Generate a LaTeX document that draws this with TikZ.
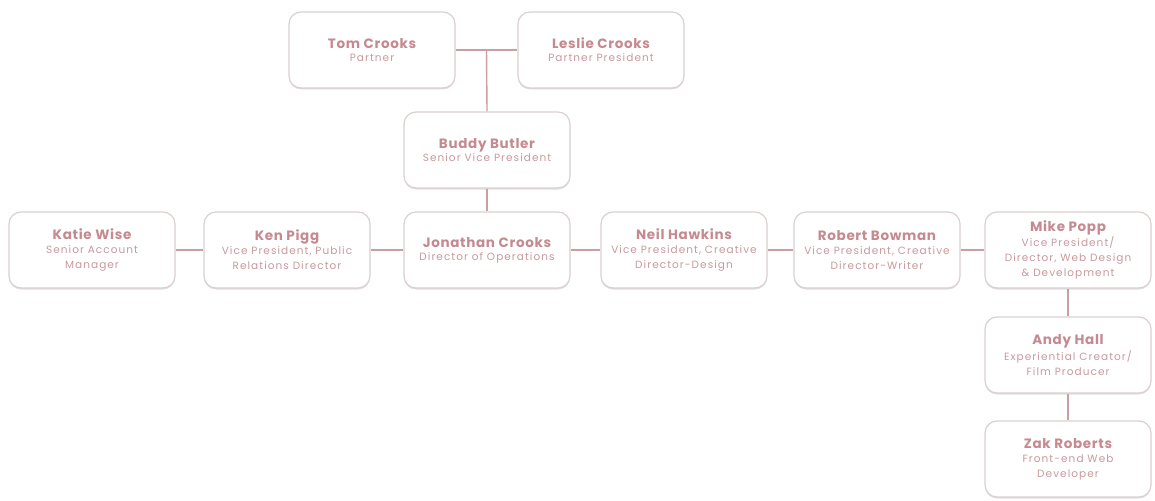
\documentclass[tikz,border=0pt]{standalone}
\usepackage{fontspec}
\setmainfont{Poppins}
\newfontfamily\namefont[LetterSpace=5]{Poppins}
\newfontfamily\titlefont[LetterSpace=10]{Poppins}
\usetikzlibrary{shadows,calc}
\definecolor{boxline}{HTML}{DCCFCF}
\definecolor{namecol}{HTML}{C48A90}
\definecolor{titlecol}{HTML}{C9999C}
\definecolor{linkcol}{HTML}{C9A0A2}
\newcommand{\pname}[1]{{\color{namecol}\namefont\fontsize{13.5}{15}\selectfont\bfseries #1}}
\newcommand{\ptitle}[1]{{\color{titlecol}\titlefont\fontsize{10.5}{12}\selectfont #1}}
\begin{document}
\begin{tikzpicture}[x=1pt,y=-1pt,
  person/.style={draw=boxline, line width=1.2pt, rounded corners=12pt, fill=white,
    minimum width=166pt, minimum height=76pt, align=center, inner sep=2pt,
    drop shadow={shadow xshift=0pt, shadow yshift=-1.5pt, opacity=0.25, fill=gray}},
  link/.style={draw=linkcol, line width=1.4pt}]
\useasboundingbox (0,0) rectangle (1155,500);
\node[person] (tom) at (372,50) {\pname{Tom Crooks}\\[1pt]\ptitle{Partner}};
\node[person] (leslie) at (601,50) {\pname{Leslie Crooks}\\[1pt]\ptitle{Partner President}};
\node[person] (buddy) at (487,150) {\pname{Buddy Butler}\\[1pt]\ptitle{Senior Vice President}};
\node[person] (katie) at (92,250) {\pname{Katie Wise}\\[2pt]\ptitle{Senior Account}\\[3pt]\ptitle{Manager}};
\node[person] (ken) at (287,250) {\pname{Ken Pigg}\\[2pt]\ptitle{Vice President, Public}\\[3pt]\ptitle{Relations Director}};
\node[person] (jon) at (487,250) {\pname{Jonathan Crooks}\\[1pt]\ptitle{Director of Operations}};
\node[person] (neil) at (684,250) {\pname{Neil Hawkins}\\[2pt]\ptitle{Vice President, Creative}\\[3pt]\ptitle{Director-Design}};
\node[person] (robert) at (877,250) {\pname{Robert Bowman}\\[2pt]\ptitle{Vice President, Creative}\\[3pt]\ptitle{Director-Writer}};
\node[person] (mike) at (1068,250) {\pname{Mike Popp}\\[1pt]\ptitle{Vice President/}\\[3pt]\ptitle{Director, Web Design}\\[3pt]\ptitle{\& Development}};
\node[person] (andy) at (1068,355) {\pname{Andy Hall}\\[2pt]\ptitle{Experiential Creator/}\\[3pt]\ptitle{Film Producer}};
\node[person] (zak) at (1068,459) {\pname{Zak Roberts}\\[2pt]\ptitle{Front-end Web}\\[3pt]\ptitle{Developer}};
\coordinate (mid) at ($(tom.east)!0.5!(leslie.west)$);
\draw[link] (tom.east) -- (leslie.west);
\draw[link] (mid) -- (buddy.north);
\draw[link] (buddy.south) -- (jon.north);
\draw[link] (katie.east) -- (ken.west);
\draw[link] (ken.east) -- (jon.west);
\draw[link] (jon.east) -- (neil.west);
\draw[link] (neil.east) -- (robert.west);
\draw[link] (robert.east) -- (mike.west);
\draw[link] (mike.south) -- (andy.north);
\draw[link] (andy.south) -- (zak.north);
\end{tikzpicture}
\end{document}
